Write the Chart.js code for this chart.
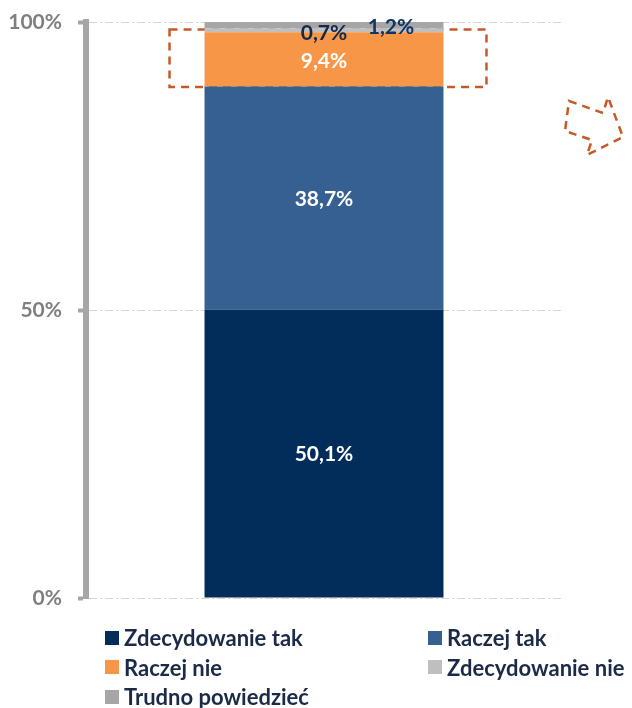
<!DOCTYPE html>
<html>
<head>
<meta charset="utf-8">
<script src="https://cdn.jsdelivr.net/npm/chart.js@4"></script>
<style>
  body { margin: 0; background: #fff; }
  #wrap { position: relative; width: 632px; height: 708px; }
  #legend {
    position: absolute; left: 105px; top: 623px;
    display: grid; grid-template-columns: 323px auto; grid-auto-rows: 29.5px;
    font: bold 22px Lato, sans-serif; color: #1B2A47;
  }
  #legend div { display: flex; align-items: center; white-space: nowrap; }
  #legend span { display: inline-block; width: 14px; height: 14px; margin-right: 5px; }
</style>
</head>
<body>
<div id="wrap">
  <canvas id="graphique" width="632" height="708"></canvas>
  <div id="legend"></div>
</div>
<script>
// donnees
const categories = [''];
const seriesNames = ['Zdecydowanie tak', 'Raczej tak', 'Raczej nie', 'Zdecydowanie nie', 'Trudno powiedzieć'];
const zdecydowanieTak = [50.1];
const raczejTak = [38.7];
const raczejNie = [9.4];
const zdecydowanieNie = [0.7];
const trudnoPowiedziec = [1.2];
const tickLabels = ['0%', '50%', '100%'];

const couleurs = ['#022D5B', '#376092', '#F79646', '#BFBFBF', '#A6A6A6'];
// decalage et couleur des etiquettes (style seulement)
const etiquettes = [
    { color: '#fff', dx: 0, dy: 1 },
    { color: '#fff', dx: 0, dy: 1 },
    { color: '#fff', dx: 0, dy: 2 },
    { color: '#13284A', dx: 0, dy: 3 },
    { color: '#0E3566', dx: 67, dy: 2.5 }
];

const valeurs = [zdecydowanieTak, raczejTak, raczejNie, zdecydowanieNie, trudnoPowiedziec];

const datasets = seriesNames.map(function (nom, i) {
    return {
        label: nom,
        data: valeurs[i],
        backgroundColor: couleurs[i],
        borderWidth: 0,
        barPercentage: 1,
        categoryPercentage: 0.502
    };
});

// legende html en deux colonnes
const legende = document.getElementById('legend');
seriesNames.forEach(function (nom, i) {
    const item = document.createElement('div');
    item.innerHTML = '<span style="background:' + couleurs[i] + '"></span>' + nom;
    legende.appendChild(item);
});

const etiquettesPlugin = {
    id: 'etiquettes',
    afterDatasetsDraw(chart) {
        const ctx = chart.ctx;
        ctx.save();
        ctx.font = 'bold 21px Lato, sans-serif';
        ctx.textAlign = 'center';
        ctx.textBaseline = 'middle';
        chart.data.datasets.forEach(function (ds, i) {
            const bar = chart.getDatasetMeta(i).data[0];
            const p = bar.getProps(['x', 'y', 'base'], true);
            const e = etiquettes[i];
            ctx.fillStyle = e.color;
            const txt = ds.data[0].toFixed(1).replace('.', ',') + '%';
            ctx.fillText(txt, p.x + e.dx, (p.y + p.base) / 2 + e.dy);
        });
        ctx.restore();
    }
};

// cadre pointille et fleche
const decorPlugin = {
    id: 'decor',
    beforeDatasetsDraw(chart) {
        const ctx = chart.ctx;
        const y = chart.scales.y;
        const bar = chart.getDatasetMeta(2).data[0];
        const p = bar.getProps(['x', 'width'], true);
        const left = p.x - p.width / 2 - 35;
        const right = p.x + p.width / 2 + 43;
        const top = y.getPixelForValue(98.7);
        const bottom = y.getPixelForValue(88.7);
        ctx.save();
        ctx.strokeStyle = '#C55A28';
        ctx.lineWidth = 2.5;
        ctx.setLineDash([8, 6]);
        ctx.strokeRect(left, top, right - left, bottom - top);
        ctx.restore();
    },
    afterDraw(chart) {
        const ctx = chart.ctx;
        const pts = [[569, 101], [603, 113], [608, 97], [623, 137], [587, 155], [592, 140], [565, 131]];
        ctx.save();
        ctx.strokeStyle = '#C55A28';
        ctx.lineWidth = 2.5;
        ctx.setLineDash([8, 6]);
        ctx.beginPath();
        ctx.moveTo(pts[0][0], pts[0][1]);
        for (let i = 1; i < pts.length; i++) ctx.lineTo(pts[i][0], pts[i][1]);
        ctx.closePath();
        ctx.stroke();
        ctx.restore();
    }
};

const ctx = document.getElementById('graphique').getContext('2d');
new Chart(ctx, {
    type: 'bar',
    data: { labels: categories, datasets: datasets },
    plugins: [decorPlugin, etiquettesPlugin],
    options: {
        responsive: false,
        animation: false,
        layout: { padding: { top: 22, bottom: 110, right: 70, left: 0 } },
        plugins: {
            legend: { display: false },
            tooltip: { enabled: false }
        },
        scales: {
            x: { stacked: true, display: false },
            y: {
                stacked: true,
                min: 0,
                max: 100,
                afterFit(scale) {
                    scale.width = 86;
                    scale.paddingTop = 0;
                    scale.paddingBottom = 0;
                },
                afterBuildTicks(scale) {
                    scale.ticks = [{ value: 0 }, { value: 50 }, { value: 100 }];
                },
                ticks: {
                    padding: 16,
                    color: '#7F7F7F',
                    font: { family: 'Lato', weight: 'bold', size: 21 },
                    callback: function (v, idx) { return tickLabels[idx]; }
                },
                grid: {
                    color: '#D6D6D6',
                    lineWidth: 1,
                    tickColor: '#A6A6A6',
                    tickWidth: 4,
                    tickLength: 8,
                    tickBorderDash: []
                },
                border: { display: true, color: '#A6A6A6', width: 6, dash: [8, 3, 2, 3] }
            }
        }
    }
});
</script>
</body>
</html>
